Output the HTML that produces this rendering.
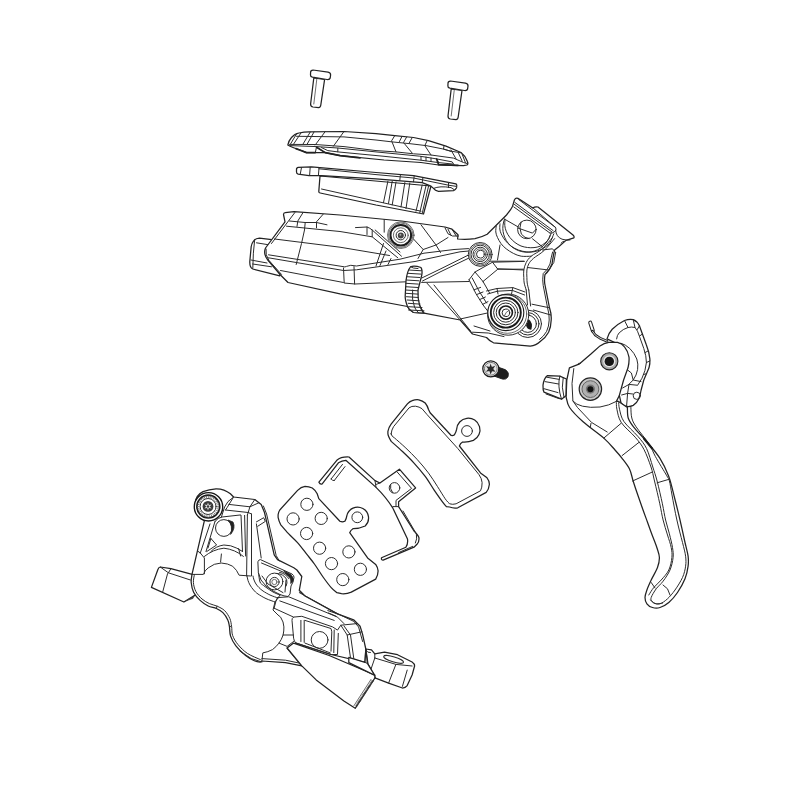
<!DOCTYPE html>
<html><head><meta charset="utf-8"><title>Brake exploded view</title>
<style>
html,body{margin:0;padding:0;background:#fff;width:800px;height:800px;overflow:hidden;font-family:"Liberation Sans",sans-serif;}
svg{display:block}
.l{fill:none;stroke:#2b2b2b;stroke-width:1.0;stroke-linecap:round;stroke-linejoin:round}
.t{fill:none;stroke:#3c3c3c;stroke-width:0.75;stroke-linecap:round;stroke-linejoin:round}
.o{fill:#fff;stroke:#222;stroke-width:1.25;stroke-linecap:round;stroke-linejoin:round}
.k{fill:#1a1a1a;stroke:#1a1a1a;stroke-width:1}
</style></head><body>
<svg width="800" height="800" viewBox="0 0 800 800">
<rect width="800" height="800" fill="#fff"/>
<g id="screws">
<path class="o" d="M313.8,78 L310.6,104 Q310.6,106.6 313,107 L318.5,107.6 Q320.6,107.4 320.8,105 L324.6,79.5Z"/>
<path class="t" d="M316.9,78.3 L313.8,104"/>
<path class="o" d="M310.6,72.2 Q310.6,70 313,70 L328,72.2 Q330.8,72.8 330.6,75 L330.2,78 Q329.8,79.8 327,79.5 L312.5,77.2 Q310.4,76.8 310.5,75Z"/>
<path class="o" d="M451.2,89 L448,116 Q448,118.6 450.4,119 L455.9,119.6 Q458,119.4 458.2,117 L462,90.5Z"/>
<path class="t" d="M454.3,89.6 L451.2,116"/>
<path class="o" d="M448,83.2 Q448,81 450.4,81 L465.4,83.2 Q468.2,83.8 468,86 L467.6,89 Q467.2,90.8 464.4,90.5 L449.9,88.2 Q447.8,87.8 447.9,86Z"/>
</g>
<g id="cap">
<path class="o" d="M287.8,145 Q288.5,141 291.5,137.5 Q294.5,133.8 299,133 Q304,132 309,131.9 L344,131.5 L376,133.6 L394.8,135.6 L413.5,137.5 L428.5,140.6 L446,146.2 L461,152.5 Q465.5,156 467.3,161.2 Q468.6,164 467,165 L463.5,165.7 L451,165.3 L438.5,165 L421,162.5 L384,160 L340.2,155.6 L325.2,152.6 L306.5,152.6 L300.2,150 Q292,147.6 287.8,145Z"/>
<path class="l" d="M296.5,136.3 L344,136.9 L376,140 L392.2,141.9 L411,143.8 L426,145.6 L442.2,148.8 L451,151.2 L461,152.8"/>
<path class="l" d="M289.5,144.4 L315.2,144.5 L344,146.6 L376,150.6 L396,151.9 L413.5,153.8 L431,155 L453.5,158.1 L463.5,162.5 L467.3,163.6"/>
<path class="l" d="M290,145.6 L316.5,146.6 L337.8,148 L376,151.9 L419.8,156.2 L436,158.8 L452.2,161.9 L454,164.6"/>
<path class="l" d="M316.5,146.9 L315.4,152.4 M316.8,147.4 L325.2,152.5 M321.5,147.6 L327.8,150.6 L337.8,151.9 L337.8,148.2 M337.8,151.9 L384,156.3 L421,160.2 L438.5,162.6 L452.5,164 M437.2,159.4 L438.4,162.6 M421,156.4 L421,160 M426,157 L426,160.8 M431,158 L431,161.5"/>
<path class="l" d="M300.9,133.1 L293.4,144.4 M296.5,134 L290.5,144 M310.2,132.1 L302.8,144.4 M314,132 L307,144.4 M325.2,131.6 L315.2,145 M344,131.5 L333.4,146.2"/>
<path class="l" d="M394.8,135.6 L391.6,140.8 L396,151.9 M402,136.4 L399.4,141.6 M406.6,137.1 L403.5,142.5 L412.2,153.1 M412.2,137.6 L409,143.3 M427.2,140.6 L424.8,145.6 L431,155 M444,145.8 L443.5,149 L451,151.4 M451,150 L456,158.8 M458.5,153.1 L462.2,161.2 M462.2,154.4 L465.4,162.5"/>
<path d="M296,148.6 L300.2,150.2 L306.5,152.6 L315.2,152.6 M316.6,147.2 L325.2,152.6 L340.2,155.6 L360,157.8" fill="none" stroke="#222" stroke-width="1.7" stroke-linecap="round" stroke-linejoin="round"/>
<path d="M436.6,159 L438.6,164.6 L451,165.2 L458,165.4" fill="none" stroke="#222" stroke-width="1.7" stroke-linecap="round" stroke-linejoin="round"/>
</g>
<g id="gasket">
<path class="o" d="M320,176 L318.8,191.4 Q318.8,192.8 320.2,193 L376,205 L423.5,214 L431,186 Z"/>
<path class="l" d="M321.5,189 L376,201.2 L421,211.2"/>
<path class="l" d="M387.9,181.2 L383.5,202.6 M392.2,181.4 L388.5,203.4 M396,182 L392.2,205 M404.8,182.6 L401,207 M409.8,183 L406,208.6 M422.2,185 L416,211.2 M426,185.8 L419.8,212.6 M428.5,186.4 L422.2,213.4"/>
<path class="o" d="M296.5,169.8 Q296.3,167.6 298.4,167.4 L311.5,166.9 L376,172.5 L413.5,175.6 L456,183.8 Q457.6,185.4 456.6,187.8 Q455.5,190 453.5,190.6 L438.5,191.3 Q435,190.6 433.5,188.4 L431,186.2 L422.2,182.6 L376,178.8 L321.5,175.6 L309,175.6 L298.2,174.2 Q296.5,173.6 296.5,172Z"/>
<path class="l" d="M319,168.8 L376,174.6 L413.5,178 L448.5,185.2 L456.4,186.4 M433.5,188.4 Q440,185.6 451,187.6 L453.8,189.4"/>
<path class="l" d="M301.5,167.6 L300.2,174.4 M310.2,167.2 L309.6,175.6 M319,168.2 L318.4,175.4 M400.4,174.6 L399.8,180.4 M414.2,175.8 L413.5,181.8 M422.9,177.6 L422.2,182.6 M448.5,182.6 L448.5,187.6"/>
</g>
<g id="body">
<path class="o" d="M259.5,238.2 Q255,238.6 253.5,241.2 Q251.6,243.6 251.2,246.5 L249.8,261.5 Q249.6,267.6 252.8,269 L279.8,275.8 L284,250 L273.8,239.8Z"/>
<path class="l" d="M256.5,242.8 L270,245 M251,260 L267,263 M252.6,264 L271.5,266.8 M254.6,240.4 Q253,252 252.8,268.4"/>
<path class="o" d="M283.5,214.5 Q283.6,212.8 285.2,212.7 L294,211.7 L340,215 L401.5,221 L445,227 L452,229.2 L458,234.8 L457.6,239 Q466,240 475,238.6 Q482,237 487.2,234.2 L496,225.5 L506.5,215 Q511,209.5 512.6,206.2 L514.4,200 Q515.5,197.6 517.9,198.4 L522.2,201 L532.8,208 Q535,206.4 538,207 L573,235 Q574.6,236.6 573.9,237.8 L566,240.4 L559,246.5 L554.6,250 Q553,257 552,264 Q550,270 545,274.5 Q544,280 545,285 L549.5,307.8 Q551.6,314 551.2,320 Q551,327 548.6,332.2 Q545.6,337.6 540.8,341 Q536,345.6 530.2,346.2 L493.5,342.8 Q489.5,341 486.5,337.5 L472.5,334 L460.2,320 L424,313.2 L413.5,312.5 Q409,310 407.5,306.5 L340,293.8 L288,282.5 L280.5,275 L267.8,260 Q263,254 265.5,248 L285,221.8 Z"/>
<path class="l" d="M289.5,221 L305,222.5 L316.5,222.5 L327,224.8 M355.5,227.6 L367,227 Q370,228 372.2,230 L401.5,256.2 M286.5,226.2 L340,231.5 L372.2,236.8 L397.8,257.8 M274.5,239 L340,247.2 L389.5,255.5"/>
<path class="l" d="M268.5,254.8 L343,266.6 Q345,267.4 346.5,266.4 Q350,264.4 356.5,266 L400,259.2 L424,253.2 L454,249.5 L468.5,248.6 M268.5,257.8 L343.5,270.5 L356.5,269.8 L415,261.5 L460,251.8 L469,251"/>
<path class="l" d="M280.5,270.5 L343.5,282.5 Q345,283.4 346,283.2 L355,284 L406,281.8 M343.5,268 L344.2,282.8 M354,266.6 L354.6,284 M305.2,222.5 L304.5,230 L301.5,243.5 L296.2,264.5 M303,212.6 L297.8,221 L297,226.4 M323.2,214.2 L316.5,221.8 L316.5,227.8 M294.8,212.6 L271.5,243.5 M266,249 Q265,255 269,260.5 L281.5,274.4"/>
<path class="l" d="M384.2,219.5 L384.2,232.2 M375.2,230 L400,252 M367,227 L367,234.5 M372.2,230 L372.2,236.8 M413.5,239 L423.2,249.5 L418,258.5 M421,224.8 L436,245 L440.5,252.5 M423.2,249.5 L436,245 L448,237.5 M383.5,243.5 L376,266 M391,258.5 L388,264.5 M386,251 L380,265.5"/>
<path class="l" d="M445,227.8 L448,233.8 L452.5,236 L458.5,236 M448,229.2 L451,235.2 M452.5,230 L456.2,236"/>
<circle class="t" cx="400.8" cy="235.2" r="13.3" style="fill:#fff"/>
<circle class="t" cx="400.8" cy="235.2" r="12.2"/>
<circle cx="400.8" cy="235.2" r="10.3" fill="none" stroke="#1a1a1a" stroke-width="2"/>
<circle class="t" cx="400.8" cy="235.2" r="7.4"/>
<circle class="l" cx="400.8" cy="235.2" r="4.7"/>
<circle cx="400.8" cy="235.4" r="3" fill="#444"/>
<circle cx="400.4" cy="234.8" r="1" fill="#aaa"/>
<path class="o" d="M410.5,266.8 Q414,265 421,267.5 Q422.6,270 421.8,275 L418,290 Q417.6,298 419.5,305 Q421,310 424,313.2 L413.5,312.5 Q409,310 407.5,306.5 Q405,300 405.2,296 L406,281 Q407,271 410.5,266.8 Z"/>
<path class="l" d="M408.6,270.0 L421.6,270.8 M407.7,273.3 L420.6,274.1 M406.8,276.7 L419.7,277.5 M406.1,280.0 L418.9,280.8 M405.6,283.3 L418.3,284.1 M405.4,286.7 L417.9,287.5 M405.5,290.0 L417.8,290.8 M405.8,293.3 L417.9,294.1 M406.5,296.7 L418.3,297.5 M407.3,300.0 L418.9,300.8 M408.2,303.3 L420.1,304.1 M408.6,306.7 L422.0,307.5 M408.6,310.0 L424.0,310.8"/>
<path class="l" d="M410.5,266.8 Q412.4,268.4 418,268.6 M412.6,290 Q411.6,300 414.5,307 Q416,310.6 418.6,312.8"/>
<path class="l" d="M421.8,278 L440,269.2 L471.5,253.5 M422.5,281 L440,272 L469,258 M421.6,282.4 L469,281.5 M427,283.2 L460.2,320 M434,285 L470.6,331 M424,313.2 L419.6,305"/>
<path class="l" d="M504.6,218.9 L503.6,222.0 L503.0,225.2 L502.8,228.4 L503.1,231.6 L503.8,234.8 L504.9,237.8 L506.4,240.7 L508.3,243.3 L510.5,245.7 L513.0,247.7 L515.8,249.4 L518.7,250.7 L521.8,251.6 L525.0,252.1 L528.3,252.2 L531.5,251.8 L534.6,251.0 L537.6,249.8 L540.4,248.1 L543.0,246.2 L545.3,243.9 L547.2,241.3 L548.8,238.5 L550.0,235.5"/>
<path class="l" d="M515,202.5 L553.1,230.6 M514.4,204.4 L551.9,231.9 M513.8,206.9 L550,233.1 M518.8,199.6 L555.6,227.5 Q556.6,229.4 555.4,231 Q553,233.6 550,233.1"/>
<path class="l" d="M532.5,207.5 L555.6,227.5 M555.6,230 Q555.8,233.4 557.4,235.6 Q559,238 562,239.2 Q566,240.4 570,240 M561,243.2 Q562.6,241.4 563.8,241.2"/>
<circle class="l" cx="526.9" cy="229.4" r="9.3"/>
<path class="l" d="M521,222 Q518.6,228 521.4,234.2 Q524.6,238.2 529,238.6 M518.1,228.1 L532.5,233.1 L536,229.4 M505,219.4 L518.1,226.9 M532.5,238.8 L542.5,246.9"/>
<path class="l" d="M505.0,220.0 C505.0,220.9 504.6,223.6 504.8,225.5 C505.0,227.4 505.4,229.2 506.2,231.2 C507.0,233.2 508.3,235.5 509.8,237.4 C511.3,239.3 513.1,241.1 515.0,242.5 C516.9,243.9 518.9,245.2 521.0,246.0 C523.1,246.8 525.3,247.2 527.5,247.5 C529.7,247.8 531.9,247.8 534.0,247.6 C536.1,247.4 538.2,247.0 540.0,246.2 C541.8,245.4 543.5,244.2 545.0,243.0 C546.5,241.8 547.8,240.5 548.8,238.8 C549.8,237.2 550.8,234.1 551.2,233.1"/>
<path class="l" d="M500.0,223.8 C500.0,224.7 499.6,227.3 499.8,229.0 C500.0,230.7 500.3,231.9 501.2,233.8 C502.1,235.7 503.7,238.5 505.4,240.6 C507.1,242.7 509.0,244.6 511.2,246.2 C513.4,247.8 515.9,249.1 518.4,250.0 C520.9,250.9 523.7,251.6 526.2,251.9 C528.7,252.2 531.3,252.1 533.6,251.8 C535.9,251.5 538.0,250.8 540.0,250.0 C542.0,249.2 543.9,248.1 545.6,246.8 C547.3,245.6 548.6,244.7 550.0,242.5 C551.4,240.3 553.2,235.2 553.8,233.8"/>
<path class="l" d="M496.2,226.2 C496.1,227.2 495.6,230.1 495.8,232.0 C496.0,233.9 496.6,235.6 497.5,237.5 C498.4,239.4 499.6,241.7 501.0,243.6 C502.4,245.5 504.1,247.2 506.2,248.8 C508.3,250.4 510.9,252.2 513.4,253.4 C515.9,254.6 518.2,255.7 521.2,256.2 C524.2,256.7 529.5,256.2 531.2,256.2"/>
<path class="l" d="M526.2,290.0 C525.9,288.8 524.6,285.1 524.2,283.0 C523.8,280.9 523.9,279.7 523.8,277.5 C523.7,275.3 523.4,272.5 523.8,270.0 C524.2,267.5 525.0,264.8 526.2,262.5 C527.4,260.2 528.5,258.5 531.2,256.2 C533.9,253.9 539.0,251.9 542.5,248.8 C546.0,245.7 550.8,239.4 552.5,237.5"/>
<path class="l" d="M528.8,290.0 C528.5,288.8 527.5,285.1 527.2,283.0 C526.9,280.9 527.0,279.7 526.9,277.5 C526.8,275.3 526.6,272.3 526.9,270.0 C527.2,267.7 527.7,265.7 528.8,263.8 C529.9,261.9 530.9,260.6 533.4,258.4 C535.9,256.2 540.5,253.9 544.0,250.6 C547.5,247.3 552.8,240.6 554.6,238.6"/>
<path class="l" d="M526.2,290 L527.5,305 M528.8,290 L530.6,306"/>
<path class="l" d="M542.5,250 L552.5,248.8 L555.6,252.5 M555.6,252.5 L553.8,262.5 L548.8,270 L527.5,267.5"/>
<path class="l" d="M490,261.2 L523.8,261.2 M497.5,268.8 L523.8,270 M500,245 L497.5,260"/>
<circle class="l" cx="480.2" cy="254.4" r="11.9" style="fill:#fff"/>
<circle class="t" cx="480.2" cy="254.4" r="10.6"/>
<circle class="l" cx="480.2" cy="254.4" r="9.2"/>
<circle class="l" cx="480.2" cy="254.4" r="7.2"/>
<circle class="t" cx="480.2" cy="254.4" r="5.6"/>
<circle class="l" cx="480.4" cy="254.2" r="3.9"/>
<path class="l" d="M469,279.8 L475,272 L492.5,262.2 L524.4,261.4 M469,279.8 L476,293.8 L483.8,306 L488,311.4 M483,281.5 L497.8,269.2 L523.4,269.2 M483,281.5 L489.6,293 M472.2,278 L479,291 L486.6,303 M492.5,262.2 L497.8,269.2 M475,272 L483,281.5"/>
<path class="l" d="M474,289.8 L480.6,287.4 M476.6,294.6 L483,292 M479.6,299.6 L485.4,297 M482.6,304.4 L488,301.6"/>
<path class="l" d="M486.5,291 L497,288.5 L512.8,287.6 L525,292 M487.6,294 L497.4,291.2 L512.4,290.4 L524.6,295 M497,288.5 L498,294 M512.8,287.6 L511.6,293.6"/>
<path class="l" d="M532,304.2 L549.5,307.8 M533.4,310 L550.8,315 M460.2,319 L487.4,313 M472.5,332.2 L488.2,333 L504,336.6 M474,326 L490,331"/>
<path class="l" d="M552.6,252 Q551,258 550,264 Q548,269.4 543.2,273.6 Q542.2,280 543.2,285.4 L547.6,308 Q549.4,314 549.2,320 Q549,326.4 546.6,331.4 Q543.8,336.4 539.6,339.4"/>
<circle class="l" cx="527.8" cy="323.8" r="13.7" style="fill:#fff"/>
<circle class="l" cx="527.8" cy="323.8" r="11.2"/>
<circle class="l" cx="527.8" cy="323.8" r="8.6"/>
<path d="M528.6,319 Q533.4,323 531.4,329.6 Q527,330 526,325Z" fill="#1a1a1a"/>
<circle class="l" cx="508.2" cy="314.6" r="20.6" style="fill:#fff"/>
<circle class="t" cx="507.4" cy="314" r="19.3"/>
<circle cx="505.8" cy="312.6" r="18" fill="#fff" stroke="#1c1c1c" stroke-width="1.1"/>
<circle cx="505.8" cy="312.6" r="15" fill="none" stroke="#1a1a1a" stroke-width="1.9"/>
<circle class="l" cx="505.8" cy="312.6" r="12.2"/>
<circle class="l" cx="505.8" cy="312.6" r="9.6"/>
<circle cx="505.8" cy="312.6" r="6.6" fill="none" stroke="#1a1a1a" stroke-width="1.6"/>
<circle class="l" cx="505.9" cy="312.8" r="3.8"/>
<path class="t" d="M504.4,315.8 Q505.6,311.6 509,310.4"/>
</g>
<g id="sscrew">
<path d="M493,365.4 L505.6,369.8 Q509.6,372.6 508,376.8 Q506,380 502.4,379 L490,374.6Z" fill="#1e1e1e" stroke="#1e1e1e" stroke-width="1"/>
<circle cx="490.8" cy="368.8" r="8" fill="#fff" stroke="#1c1c1c" stroke-width="1.3"/>
<circle cx="490.8" cy="368.8" r="6.4" fill="#e4e4e4" stroke="#666" stroke-width="0.9"/>
<path d="M490.6,363.6 L491.8,367 L495.2,365.8 L493.2,369 L495.6,371.8 L492,371.2 L490.6,374.4 L489.4,371 L485.8,371.8 L488.2,369 L486,366 L489.6,367Z" fill="#2a2a2a"/>
<circle cx="490.7" cy="369" r="2.4" fill="#2a2a2a"/>
</g>

<g id="lever">
<path d="M590.2,322.6 L592.8,330.6" fill="none" stroke="#222" stroke-width="4" stroke-linecap="round"/>
<path d="M590.2,322.6 L592.8,330.6" fill="none" stroke="#fff" stroke-width="1.9" stroke-linecap="round"/>
<path d="M592.4,331 L595.4,335.2 L600,338.2 L607,341.2" fill="none" stroke="#1c1c1c" stroke-width="2.6" stroke-linecap="round" stroke-linejoin="round"/>
<path d="M592.6,331.4 L595.4,335.2 L600,338.2 L607,341.2" fill="none" stroke="#fff" stroke-width="0.8" stroke-linecap="round" stroke-linejoin="round"/>
<path class="o" d="M607,338.9 Q608.6,333 612.2,329.2 Q617.6,324 624.5,320.5 Q629,318.8 633.2,319.6 Q637.4,321.4 639.4,325.8 L646.4,345 Q649.2,352 649.9,359 Q650.2,363.6 649,367.8 L643.8,380 L641,390.5 Q640.4,395.4 638.5,399.2 Q636.6,403.4 633.2,405.4 Q629.4,407.2 625.4,406.2 Q622.4,405 621,402.8 L616,380 L620,345Z"/>
<path class="l" d="M616.6,338.9 Q617,335 619.2,332.8 Q623,329 628,327.5 Q631.6,326.6 635,327.5 Q637.8,330.6 639.4,336.2 L643.8,348.5 Q646.4,356 646.4,362.5 Q645.6,371 642,378.2 L637.6,385.2"/>
<path class="l" d="M621,343.2 Q625.6,344.6 629.8,348.5 Q634.4,353 636.8,359 Q638.4,364 637.6,369.5 Q636.6,375.4 633.2,380 L629.2,384"/>
<path class="l" d="M624.5,320.5 L628,327.5 M633.2,319.6 L635,327.5 M639.4,325.8 L637.2,329.6 M642.4,334 L639.4,336.2 M648,351 L645,352.6 M649.9,361 L646.4,362.5 M646.6,373.6 L643.4,374.6"/>
<path class="l" d="M627,369.5 L631.4,373 L633.2,380 L641,381.6 M622.6,388 L629,384.4 L637,385.2 M621.6,395 L627.6,393.4 L632.6,394 M627.6,393.4 L626.6,405.8 M629,384.4 L627.6,393.4"/>
<circle class="l" cx="636.8" cy="395.8" r="3.6"/>
<path class="o" d="M569.4,367.8 L579,364.2 L591.2,353.8 L600,345.9 Q604,343 608.8,342.4 L617.5,342.4 Q622,343.6 624.5,346.8 Q628,351 629,357.2 Q629.4,362 628,367.8 L623.6,380 L619.2,395.8 L616.4,401.4 L618.6,401.4 L627.4,407.5 C627.5,409.2 627.2,414.8 628.2,418.0 C629.2,421.2 630.3,422.7 633.5,426.8 C636.7,430.9 643.1,437.3 647.5,442.5 C651.9,447.7 656.3,452.6 659.8,458.2 C663.3,463.8 666.1,469.4 668.6,476.0 C671.1,482.6 672.7,490.7 674.6,498.0 C676.5,505.3 678.3,512.6 680.0,520.0 C681.7,527.4 683.6,536.5 685.0,542.5 C686.4,548.5 687.6,552.2 688.1,556.2 C688.6,560.2 688.6,562.4 688.1,566.2 C687.6,570.0 686.8,574.4 685.0,578.8 C683.2,583.2 680.2,588.5 677.5,592.5 C674.8,596.5 671.7,600.0 668.8,602.5 C665.9,605.0 662.7,606.7 660.0,607.5 C657.3,608.3 654.7,608.1 652.5,607.5 C650.3,606.9 648.1,605.5 646.9,603.8 C645.6,602.1 645.0,599.8 645.0,597.5 C645.0,595.2 645.9,592.9 646.9,590.0 C647.9,587.1 649.4,583.8 651.2,580.0 C653.0,576.2 656.1,571.2 657.5,567.5 C658.9,563.8 659.5,560.8 659.4,557.5 C659.3,554.2 658.1,551.6 657.0,548.0 C655.9,544.4 654.1,540.2 652.5,536.0 C650.9,531.8 649.2,527.0 647.6,522.5 C646.0,518.0 644.2,513.4 642.6,508.8 C641.0,504.2 639.4,499.6 637.8,495.0 C636.2,490.4 634.6,485.6 633.2,481.2 C631.8,476.8 631.3,472.6 629.4,468.8 C627.5,465.0 624.3,461.2 621.9,458.1 C619.5,455.0 618.0,453.3 615.0,450.0 C612.0,446.7 609.2,442.9 603.8,438.1 C598.4,433.4 588.5,426.6 582.8,421.5 C577.1,416.4 572.4,411.6 569.6,407.5 C566.8,403.4 566.7,398.8 566.1,397.0 L566.8,380 Z"/>
<path class="l" d="M573.8,368.6 L572,383.5 L572.9,401 Q576,404.6 582.5,406.2 Q590,408 600,407 Q609,405.6 616.4,401.4"/>
<path class="l" d="M572.9,401 L577.5,407.5 L591.5,422.4 L607.2,432 M591,423.4 L590.2,427.6 M603.8,438.1 L621.2,423.2 M622.1,455.6 L638.8,442.5 M632.6,481 L651.9,472.2 M657.1,482.8 L669.4,479.2"/>
<path class="l" d="M616.4,401.4 C616.5,402.7 616.1,405.7 616.9,409.2 C617.7,412.7 618.2,417.7 621.2,422.4 C624.2,427.1 631.4,432.7 635.2,437.2 C639.0,441.7 641.4,444.5 644.0,449.5 C646.6,454.5 649.2,461.8 651.0,467.0 C652.8,472.2 653.0,474.9 654.5,481.0 C656.0,487.1 658.4,497.3 659.8,503.8 C661.2,510.3 661.8,514.8 663.1,520.0 C664.4,525.2 666.1,530.4 667.5,535.0 C668.9,539.6 670.5,543.8 671.2,547.5 C671.9,551.2 672.3,553.8 671.9,557.5 C671.5,561.2 670.6,566.2 668.8,570.0 C667.0,573.8 663.7,577.1 661.2,580.0 C658.7,582.9 655.9,585.0 653.8,587.5 C651.7,590.0 649.6,593.8 648.8,595.0"/>
<path class="l" d="M618.6,401.4 C618.8,402.7 618.6,405.8 619.5,409.2 C620.4,412.6 620.8,417.0 623.9,421.5 C627.0,426.0 634.1,431.9 637.9,436.4 C641.7,440.9 644.1,443.5 646.6,448.6 C649.1,453.7 651.0,461.6 652.8,467.0 C654.5,472.4 655.5,474.9 657.1,481.0 C658.7,487.1 661.0,497.3 662.4,503.8 C663.8,510.3 664.4,515.0 665.6,520.0 C666.8,525.0 668.2,529.2 669.4,533.8 C670.5,538.4 671.9,543.5 672.5,547.5 C673.1,551.5 673.5,553.8 673.1,557.5 C672.7,561.2 671.7,566.0 670.0,570.0 C668.3,574.0 665.4,578.1 663.1,581.2 C660.8,584.3 658.2,586.1 656.2,588.8 C654.2,591.5 651.9,595.4 651.2,597.5 C650.5,599.6 651.1,600.2 651.9,601.2 C652.7,602.2 654.4,603.5 656.2,603.8 C658.0,604.1 661.5,603.2 662.5,603.1"/>
<path class="l" d="M630.9,407.5 C631.0,409.2 630.9,414.8 631.8,418.0 C632.7,421.2 633.2,422.4 636.1,426.8 C639.0,431.2 646.0,439.2 649.2,444.2 C652.4,449.1 652.5,451.2 655.4,456.5 C658.3,461.8 664.5,471.7 666.8,475.8 C669.1,479.9 668.5,477.8 669.4,481.0 C670.3,484.2 670.8,488.5 672.0,495.0 C673.2,501.5 675.1,512.1 676.9,520.0 C678.6,527.9 681.0,536.5 682.5,542.5 C684.0,548.5 685.1,552.2 685.6,556.2 C686.1,560.2 686.1,562.7 685.6,566.2 C685.1,569.8 684.3,573.5 682.5,577.5 C680.7,581.5 677.5,586.5 675.0,590.0 C672.5,593.5 670.0,596.5 667.5,598.8 C665.0,601.1 662.3,603.1 660.0,603.8 C657.7,604.5 655.4,603.6 653.8,603.0 C652.2,602.4 651.1,600.5 650.6,600.0"/>
<path d="M644,438.6 L652,448.4" fill="none" stroke="#1a1a1a" stroke-width="2.2" stroke-linecap="round"/>
<path class="l" d="M651.2,582.5 L655,588 M663,585 L667.5,588.8 L670,595"/>
<circle cx="609.3" cy="361.3" r="8.6" fill="#a8a8a8" stroke="#222" stroke-width="1.1"/>
<circle cx="609.3" cy="361.3" r="6" fill="#e6e6e6"/>
<circle cx="609.3" cy="361.4" r="4.7" fill="#151515"/>
<circle cx="590.4" cy="389.1" r="11.2" fill="#c8c8c8" stroke="#222" stroke-width="1.2"/>
<circle cx="590.4" cy="389.1" r="8.4" fill="#b0b0b0" stroke="#666" stroke-width="1"/>
<circle cx="590.4" cy="389.1" r="4.6" fill="#777"/>
<circle cx="590.4" cy="389.3" r="3" fill="#111"/>
<path class="l" d="M577.2,364.6 Q578.4,362.6 580.4,363.2"/>
<path class="o" d="M547.5,375.6 Q544,378 543,385.2 Q542.8,390 544,392.2 L561.5,399.2 L565.9,395.8 L566.4,379 L559.8,376.1Z"/>
<path class="l" d="M545,381.6 L558.6,384 M543.6,388.6 L558,392.6 M546.6,377.2 L559.2,379.4 M559.8,376.1 Q557.2,386 561.5,399.2 M563.2,377.4 Q561,387 564,397.4 M546,394 L559,398.6"/>
</g>
<g id="pads">
<path class="o" d="M387.9,431.4 Q388.6,427.4 391.1,424.1 L407.4,403.8 Q409.6,401.4 412.2,400.6 Q415.6,399.4 418.8,399.8 Q422.6,400.6 425.2,403 Q427.4,405.6 428.5,409.5 L430.1,412.8 L451.2,435.5 Q453,436 454.5,434.7 Q456,432.4 456.6,429.4 A11.7,11.7 0 1 1 473.4,440.4 Q468,442.4 462.6,442 Q460.2,443.4 459.4,446 L480.5,472.9 L487,477.8 Q489.2,480.4 489.4,484.2 Q489,489 486.2,492.4 L457.8,507.8 Q453.6,508.6 449.6,507 L446.4,506.6 C445.6,505.7 444.0,503.8 441.9,501.0 C439.8,498.2 436.8,493.9 434.0,489.8 C431.2,485.7 428.4,480.7 425.0,476.2 C421.6,471.7 417.6,466.9 413.8,462.8 C410.1,458.7 406.3,455.1 402.5,451.5 C398.7,447.9 393.1,443.1 391.2,441.4 Q388.2,436.4 387.9,433.9Z"/>
<circle class="l" cx="467" cy="431" r="5.4"/>
<path class="l" d="M391.1,433.9 Q391.6,429.6 393.6,426.6 L409,407.9 Q411.6,405.8 415.5,406.2 Q419.4,406.8 422,408.7 L426.9,414.4 L457.8,448.5 L478.9,474.5 Q481.8,478.4 482.1,482.6 Q482.2,487.6 480.5,490.8 L456.1,503.8 Q452.6,504.8 449.6,503.8 C448.9,503.0 447.2,501.7 445.2,498.8 C443.2,495.9 440.2,490.7 437.4,486.4 C434.6,482.1 431.8,477.4 428.4,472.9 C425.0,468.4 420.9,463.5 417.1,459.4 C413.4,455.3 409.6,451.7 405.9,448.1 C402.1,444.5 396.5,439.7 394.6,438.0 Q391.6,436.6 391.1,433.9Z"/>
<path class="o" d="M318.9,482.2 L336.8,460.3 Q341,456.6 349,457 L375,480.6 L379.9,483 L399.4,469.2 L415.6,487.9 L398.6,501.8 L398.6,506.6 L414,531 Q418,535 418.9,537.5 Q419.4,541.6 417.2,544 L414,547.2 L383.1,560.2 Q381,560 381.5,557.8 L405.9,547.2 Q408.2,544 407.5,539.1 L392.9,508.2 Q386,497 375.8,487.1 L345.8,460.3 Q342,460.6 338.4,462.8 L322.2,483.9 Q320,484.6 318.9,482.2Z"/>
<path class="l" d="M331.1,479 L342.5,464.4 M334.2,480.6 L345,466.6 M331.1,479 Q332.4,481.2 334.2,480.6 M376.2,484.4 L379.9,483 M398.6,506.6 L392.9,506.6 M397,471.8 L411.6,488.4 L396,500.4 L396,506.4 M403,511 L416.4,534 Q417.4,539 415.4,543 M398.6,552.6 L412.6,546.4 M376,487.2 L375,480.6"/>
<circle class="l" cx="394.5" cy="487.9" r="5.3"/>
<path class="l" d="M390.6,484.6 Q389.6,489 392.6,492.6"/>
<path class="o" d="M278.1,514.8 Q278.4,512 279.8,510 L297.6,490.4 Q301,487 305,486.4 Q309,486.4 312.3,488 Q315.6,490.4 317.2,493.7 L318.8,498.6 L339.9,521.3 Q342.4,522.4 344.8,521.3 Q346.4,518.8 346.8,515.8 A11,11 0 1 1 365.2,526 Q359,528.8 352.9,528.7 Q350.6,530.2 349.7,532.7 L367.6,557.9 L375.7,564.4 Q377.8,567.4 378.1,570.9 Q378,575.4 375.7,579.1 L351.3,592.1 Q346.6,594.2 341.5,593.7 L336.9,592.7 C335.9,591.9 333.4,590.1 331.2,587.6 C328.9,585.1 326.2,581.4 323.4,577.5 C320.6,573.6 317.2,567.9 314.4,564.0 C311.6,560.1 309.3,557.5 306.5,553.9 C303.7,550.3 300.5,546.0 297.5,542.6 C294.5,539.2 291.3,536.6 288.5,533.6 C285.7,530.6 281.9,526.1 280.6,524.6 Q278.8,520.8 278.1,517.3Z"/>
<circle class="l" cx="357.3" cy="517.3" r="5.4"/>
<circle class="l" cx="306.9" cy="504.3" r="6.1"/>
<circle class="l" cx="293.1" cy="518.9" r="6.1"/>
<circle class="l" cx="321.2" cy="518.4" r="6.1"/>
<circle class="l" cx="306.6" cy="533.5" r="6.1"/>
<circle class="l" cx="319.6" cy="548.2" r="6.1"/>
<circle class="l" cx="348.9" cy="551.9" r="6.1"/>
<circle class="l" cx="331.5" cy="563.6" r="6.1"/>
<circle class="l" cx="360.4" cy="569.3" r="6.1"/>
<circle class="l" cx="342.8" cy="579.6" r="6.1"/>
</g>
<g id="caliper">
<path class="o" d="M151.4,587.4 L157.9,569.5 Q158.8,567.2 160.3,567 L170.9,568.7 L194,574.8 L196,594.6 L183.9,602Z"/>
<path class="l" d="M167.6,573.6 L162.8,591.6 M160.3,567 L168.4,572.8 L190.4,580 M170.9,568.7 L168.4,572.8"/>
<path d="M185.6,601 L194,596 L193,598.4Z" fill="#444" stroke="#333" stroke-width="0.6"/>
<path class="o" d="M365.8,649 L371.5,649.8 L374.8,653.9 L384.5,652.2 L397.5,654.7 L412.1,662 Q414.8,663.8 414.6,666 L412.1,675 L407.2,685.6 Q405.4,688 402.4,688 L388.6,683.1 L375.6,678.2 L368,664Z"/>
<path class="l" d="M374.8,658 L370.7,670.1 L375.6,678.2 M374.8,658 L395.9,664.4 L412.1,666 M395.9,664.4 L388.6,683.1 M407.2,670.1 L402.4,686.4 M374.8,653.9 L374.8,658 M366,650.4 Q367.4,653 370.4,652.6"/>
<ellipse class="l" cx="393.6" cy="659.4" rx="10.4" ry="2.5" transform="rotate(17 393.6 659.4)"/>
<path class="o" d="M195.2,503 Q196,495 203,491.6 Q209,489.6 216,488.8 Q224,488.6 230.4,493.8 L233.6,497 L254.8,499.5 L261.2,504.4 L264.5,512.5 L274.2,554.8 L277.5,559.6 L293.8,567.8 L296.9,570 L301.8,576.5 L299.3,590.3 L305,596 L337.5,613.9 L353.6,619.8 L360.1,626.2 L362.6,634.4 L365.8,649 L365,662.4 L331,654.5 L296.1,643.1 L287.1,648 L301.8,665.9 L285.5,662.6 L261.9,661 C261.6,661.2 261.5,662.2 260.2,662.1 C258.9,662.0 256.2,661.6 253.8,660.5 C251.4,659.4 248.6,658.0 245.6,655.6 C242.6,653.2 238.4,649.1 235.9,645.9 C233.4,642.6 231.7,639.4 230.6,636.1 C229.5,632.9 229.9,629.1 229.4,626.4 C228.9,623.7 228.9,622.2 227.8,619.9 C226.7,617.6 224.8,614.5 222.9,612.6 C221.0,610.7 218.9,609.6 216.4,608.5 C213.9,607.4 210.9,607.4 208.2,606.0 C205.5,604.6 202.5,602.7 200.1,600.4 C197.7,598.1 195.1,595.2 193.6,592.2 C192.1,589.2 191.5,585.5 191.2,582.5 C190.9,579.5 191.9,575.8 192.0,574.4 L204.4,520.6 Q197,516 195.2,508Z"/>
<path class="o" d="M287.1,648 L293.6,643.1 L329.2,655.5 L374.8,675 L374.8,678.2 L355.2,708.3 L343.9,701 L316.2,679.9 L301.8,665.9Z"/>
<path d="M372.8,680.6 L356,706.4" fill="none" stroke="#3a3a3a" stroke-width="2.2" stroke-dasharray="0.9 0.5"/>
<path class="t" d="M371,679.4 L354,705.6"/>
<path class="o" d="M365.8,649 L367.4,663.4 L374.8,675.4 L348.8,662.6 L348.8,657.4 L365,662.4Z"/>
<path class="l" d="M365,662.4 L367.4,663.4"/>
<path class="l" d="M192,574.4 L203.4,574.4 Q204.6,570.4 208.2,567.9 Q214,563.2 221.2,563 Q228,563.4 232.6,566.2 Q237,570 239.1,575.2 L250.5,576"/>
<path class="l" d="M194.4,574.6 C194.2,575.9 193.2,579.7 193.4,582.5 C193.6,585.3 194.4,588.6 195.8,591.4 C197.2,594.1 199.7,597.0 202.0,599.0 C204.3,601.0 206.9,602.4 209.4,603.6 C211.9,604.8 214.7,605.0 217.2,606.2 C219.7,607.4 222.5,608.6 224.6,610.6 C226.7,612.6 228.6,615.8 229.8,618.4 C231.0,621.0 231.1,623.6 231.6,626.4 C232.1,629.2 231.5,632.4 232.6,635.4 C233.7,638.4 235.5,641.6 238.0,644.6 C240.5,647.6 243.7,650.9 247.4,653.4 C251.1,655.9 258.2,658.6 260.4,659.6"/>
<path class="l" d="M247.0,576.0 C247.2,576.8 247.5,579.0 248.0,580.5 C248.5,582.0 249.1,583.4 250.0,585.0 C250.9,586.6 252.3,588.5 253.6,590.0 C254.9,591.5 255.9,592.6 258.0,594.0 C260.1,595.4 263.2,597.3 266.0,598.6 C268.8,599.9 273.5,601.4 275.0,602.0 M275,602 L273,610 L278,615 L280.6,617.1 Q283.8,622 283.9,626.9 Q284,631 283.1,635 Q281.6,639.6 279,643.1 Q276,647 272.5,649.6 Q268,652 262.8,652.9 L261.9,661 M253.0,576.0 C253.2,576.7 253.5,578.7 254.0,580.0 C254.5,581.3 255.2,582.7 256.0,584.0 C256.8,585.3 257.8,586.4 259.0,587.6 C260.2,588.8 261.2,589.8 263.0,591.0 C264.8,592.2 267.5,593.8 270.0,595.0 C272.5,596.2 276.7,597.5 278.0,598.0 M258.5,573.0 C258.8,574.5 259.2,579.9 260.0,582.0 C260.8,584.1 262.2,584.4 263.4,585.4 C264.6,586.4 265.4,586.9 267.0,588.0 C268.6,589.1 270.8,590.8 273.0,592.0 C275.2,593.2 278.8,594.5 280.0,595.0 M280,595 L278,598 L275,602 M283.1,635 L293.6,635 M279,643.1 L287.1,646.4 L293.6,641.5 M261.9,658.6 L285.5,660.2 L299,663 M240,651.2 L251.4,658.6 L261.9,662"/>
<path class="l" d="M216.4,608.5 L217,606.2 M229.4,626.4 L231,626.4 M221.4,554 L220.6,562"/>
<path class="l" d="M277.4,597.6 L288.8,596.8 L337.5,617.1 L344,623.6 M274.1,608.2 L275.8,601.7 L277.4,597.6 M279.8,600.9 L334.2,620.4 M274.1,608.2 L293.6,617.1 L301.8,616.3 L332.6,626.9 L337.5,630.1 L340.8,625.2 L357,623.6 M299.3,592.6 L335.9,612.9 L353.8,621.4 L358.6,627 L362.6,641.5 M327.8,610.6 L337.5,613.9 M328.6,613 L335.9,616.2"/>
<path class="l" d="M293.6,617.1 Q291.6,618.4 292,620.4 L293.6,638.2 Q294,641.6 296.1,643.1 L331,654.5 L337.5,654.5 L338.3,633.4 M300.9,620.4 L300.9,641.5 M304.2,620.4 L304.2,642.3 M305,620.4 L331,628.5 L331.8,631.8 L331,651.2 M305,643.1 L330.2,652.9 M334.2,630 L333.8,652.6"/>
<circle class="l" cx="319.6" cy="639.9" r="8.4"/>
<path class="l" d="M340.8,625.2 L347.2,635 L350.5,657.8 M344,626 L350.5,635 L353.8,658.6 M347.2,635 L361.9,631.8"/>
<path class="l" d="M233.6,497 L227.1,507.6 L225.5,510 M228.8,504.4 L249.9,506.8 L258.8,502.8 M225.5,510 L248.2,512.5 L251.5,514 M249.9,506.8 L248.2,512.5 M254.8,499.5 L249.9,506.8"/>
<path class="l" d="M247.4,515 L246.6,575.9 M251.5,514 L251.5,575.9 M256.4,523.9 L261.2,558 M256.4,521.9 L263.7,517.7 L265.3,521.4 L257.7,526.3 M248.2,512.5 L247.4,515"/>
<path class="l" d="M210,523.9 L200.3,553 M215,521.4 L206,551.5 M200.3,553 L204.4,558 L204.4,573.8 M197.6,551 L200.3,553"/>
<path class="l" d="M215,521.4 Q218,517.6 222,517 L240,515 L241,515 L242.5,551.5 M244.6,515.4 L245.6,556 M210.9,551.5 Q216,546 223.9,545 Q231,545 236.9,548.2 L242.5,551.5 M204.4,556.4 Q213,549.4 223.9,548.2 Q235,549.4 243.4,556.4 M210.9,538.5 L216.6,545 L206.8,551.5 M210.9,538.5 L208,548 M238.6,548.6 L240.6,556"/>
<circle class="l" cx="223.9" cy="528" r="8.4"/>
<path d="M228,520 Q233.4,526 230.6,534.4 Q236,528 233,522Z" fill="#222" stroke="#222" stroke-width="0.8"/>
<path class="l" d="M258,561.4 Q258.6,559.6 260.4,559.6 L292,574 Q294.2,575.4 294,577.4 L293,582 L291,586 L290,594 L288,596.5 Q284,596.2 280,594.5 L273,591 L266,586 L261,580 L258.5,573Z"/>
<path class="l" d="M261.5,563 L283,572 L289.4,576 M262,576 L268,584 L283,592.6 M286,580 L285,592"/>
<circle class="l" cx="274.5" cy="581.5" r="8.4"/>
<circle class="l" cx="274.5" cy="582" r="4.6"/>
<circle class="t" cx="274.4" cy="582" r="2.6"/>
<path d="M283.6,570.6 L291,574.6 Q294.4,578 292.6,582 L290.6,583.6 Q291.6,578 287.4,575.4 Z" fill="#222" stroke="#222" stroke-width="0.6"/>
<path class="l" d="M277,573.4 Q283.6,574 286.6,579.4 Q287.6,583 286.2,586 M279.6,572.4 Q285.6,573.4 288.8,578.6"/>
<path class="l" d="M263.4,506 L266.6,514 L276.2,555.6 L279.4,561 M299.3,590.3 L301.4,593.4"/>
<path class="l" d="M233,497.5 Q227,501 224.6,507 Q223,512 221.4,517"/>
<circle cx="208.5" cy="506.8" r="14.2" fill="#fff" stroke="#141414" stroke-width="1.35"/>
<circle cx="208.3" cy="506.6" r="11.4" fill="none" stroke="#1c1c1c" stroke-width="1.7"/>
<circle cx="208.2" cy="506.6" r="9.8" fill="none" stroke="#666" stroke-width="2.2" stroke-dasharray="0.8 1.1"/>
<circle class="l" cx="208.1" cy="506.5" r="8"/>
<circle cx="208" cy="506.4" r="5.4" fill="#3a3a3a"/>
<path d="M208,502.4 L208.9,505 L211.6,504.4 L209.8,506.5 L211.6,508.6 L208.9,508 L208,510.6 L207.1,508 L204.4,508.6 L206.2,506.5 L204.4,504.4 L207.1,505Z" fill="#ddd"/>
<circle cx="208" cy="506.5" r="1.2" fill="#3a3a3a"/>
</g>
</svg>
</body></html>
